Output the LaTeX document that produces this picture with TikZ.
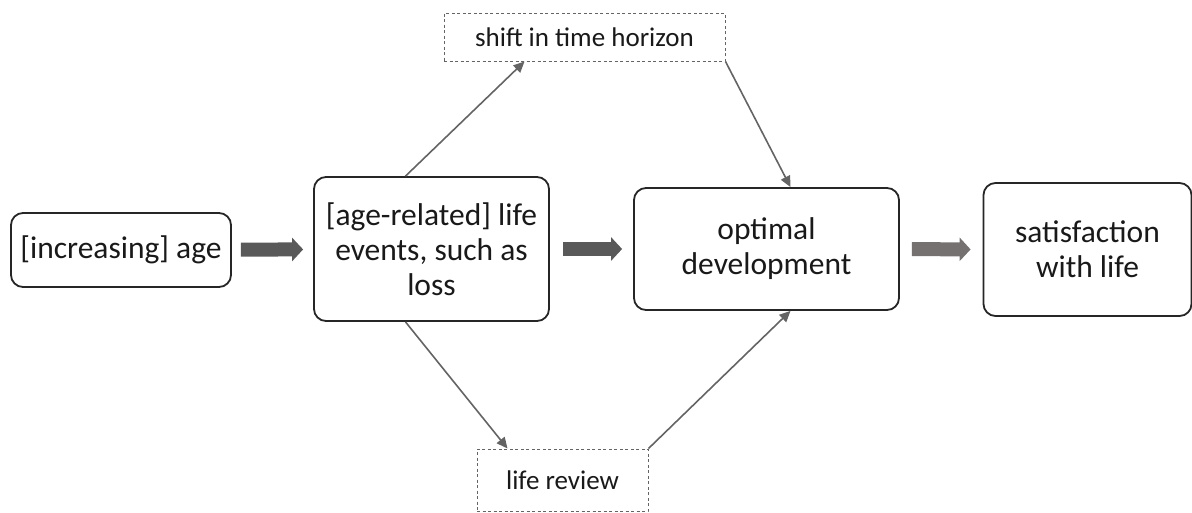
\documentclass[tikz,border=0pt]{standalone}
\usepackage{fontspec}
\setmainfont{Carlito}
\usetikzlibrary{arrows.meta}

\definecolor{boxline}{HTML}{262626}
\definecolor{darkarrow}{HTML}{595959}
\definecolor{lightarrow}{HTML}{767171}
\definecolor{thinline}{HTML}{646464}

\tikzset{
  mainbox/.style={draw=boxline, line width=1.8pt, rounded corners=12pt, align=center,
    font=\fontsize{31.5}{35}\selectfont, text=black!90, inner sep=0pt},
  sidebox/.style={draw=thinline, line width=1pt, dash pattern=on 3pt off 2.5pt, align=center,
    font=\fontsize{27}{32}\selectfont, text=black!90, inner sep=0pt},
  bigarrow/.style={line width=14pt, -{Triangle[length=11pt,width=23pt]}},
  thinarrow/.style={draw=thinline, line width=1.6pt, -{Triangle[length=11pt,width=10pt]}}
}

\begin{document}
\begin{tikzpicture}[x=1pt,y=-1pt]
\useasboundingbox (0,0) rectangle (1192,512);

\node (age) at (121,250) [mainbox, minimum width=220pt, minimum height=74pt] {[increasing] age};
\node (events) at (431.5,249) [mainbox, minimum width=235pt, minimum height=144pt] {[age-related] life\\events, such as\\loss};
\node (optimal) at (766.5,249) [mainbox, minimum width=265pt, minimum height=122pt] {optimal\\development};
\node (satisf) at (1087.5,249.5) [mainbox, minimum width=208pt, minimum height=133pt] {satisfaction\\with life};
\node (horizon) at (584.5,37) [sidebox, minimum width=281pt, minimum height=48pt] {shift in time horizon};
\node (review) at (562.5,480) [sidebox, minimum width=171pt, minimum height=62pt] {life review};

\draw [bigarrow, darkarrow, shorten <=9pt, shorten >=10pt] (age) -- (events);
\draw [bigarrow, darkarrow, shorten <=13pt, shorten >=11pt] (events.east) -- (optimal.west);
\draw [bigarrow, lightarrow, shorten <=12pt, shorten >=12pt] (optimal.east) -- (satisf.west);

\draw [thinarrow] ([xshift=-26pt]events.north) -- ([xshift=-60pt]horizon.south);
\draw [thinarrow] (horizon.south east) -- ([xshift=24pt]optimal.north);
\draw [thinarrow] ([xshift=-26pt]events.south) -- ([xshift=-55pt]review.north);
\draw [thinarrow] (review.north east) -- ([xshift=24pt]optimal.south);
\end{tikzpicture}
\end{document}
